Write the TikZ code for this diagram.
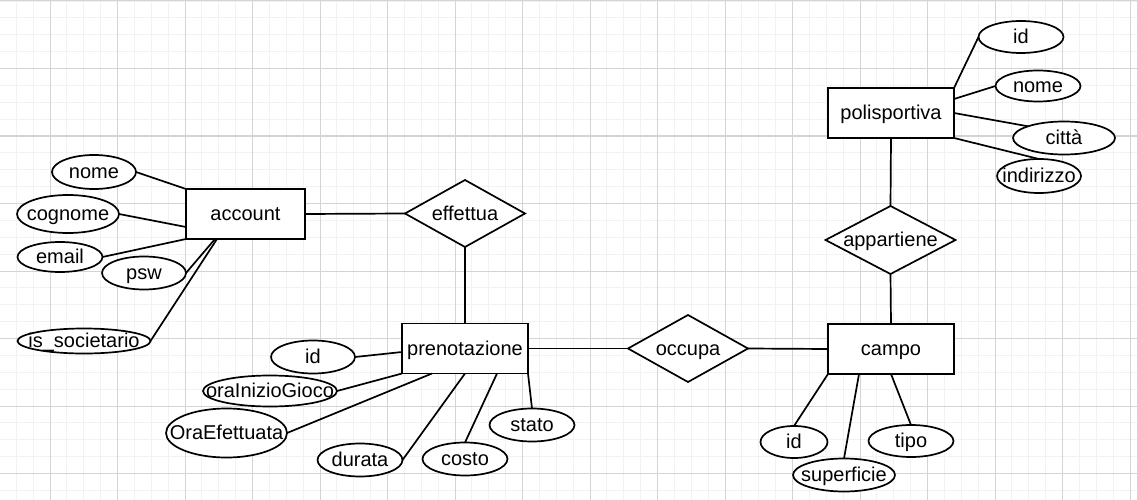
\documentclass[tikz,border=0pt]{standalone}
\usepackage{fontspec}
\setmainfont{Liberation Sans}
\usetikzlibrary{shapes.geometric}
% centred label whose size does not affect the shape around it
\newcommand{\ertext}[1]{\makebox[0pt]{\raisebox{-6.9pt}[0pt][0pt]{#1}}}

\begin{document}
\begin{tikzpicture}[x=1pt,y=-1pt,
  every node/.style={font=\fontsize{20}{24}\selectfont, inner sep=0pt, outer sep=0pt},
  entity/.style 2 args={draw, line width=1.7pt, fill=white, rectangle,
    minimum width=#1, minimum height=#2},
  relation/.style 2 args={draw, line width=1.7pt, fill=white, diamond,
    minimum width=#1, minimum height=#2},
  attr/.style 2 args={draw, line width=1.7pt, fill=white, ellipse,
    minimum width=#1, minimum height=#2},
  link/.style={line width=1.7pt},
  minorgrid/.style={draw=black!5, line width=0.8pt},
  majorgrid/.style={draw=black!17, line width=1pt}]

\useasboundingbox (0,0) rectangle (1137,500);
\fill[white] (0,0) rectangle (1137,500);

% background grid
\foreach \i in {-3,...,64} \draw[minorgrid] ({50+16.875*\i},0) -- ({50+16.875*\i},500);
\foreach \j in {0,...,29} \draw[minorgrid] (0,{1+16.875*\j}) -- (1137,{1+16.875*\j});
\foreach \i in {-1,...,16} \draw[majorgrid] ({50+67.5*\i},0) -- ({50+67.5*\i},500);
\foreach \j in {0,...,7} \draw[majorgrid] (0,{1+67.5*\j}) -- (1137,{1+67.5*\j});

% entities
\node[entity={119pt}{50pt}] (account) at (245.5,214) {\ertext{account}};
\node[entity={126pt}{50pt}] (pren) at (465,348.5) {\ertext{prenotazione}};
\node[entity={126pt}{50pt}] (campo) at (891,349) {\ertext{campo}};
\node[entity={126pt}{50pt}] (poli) at (891,113) {\ertext{polisportiva}};

% relationships
\node[relation={120pt}{67pt}] (effettua) at (465,213.5) {\ertext{effettua}};
\node[relation={120pt}{67pt}] (occupa) at (688,348.5) {\ertext{occupa}};
\node[relation={130pt}{68pt}] (appartiene) at (890.5,240) {\ertext{appartiene}};

% attributes of account
\node[attr={84pt}{34pt}] (a_nome) at (94,172) {\ertext{nome}};
\node[attr={102pt}{38pt}] (a_cognome) at (68,214) {\ertext{cognome}};
\node[attr={85pt}{30pt}] (a_email) at (60,257) {\ertext{email}};
\node[attr={84pt}{33pt}] (a_psw) at (144,273) {\ertext{psw}};
\node[attr={133pt}{25pt}] (a_soc) at (84,341) {\ertext{is\_societario}};

% attributes of prenotazione
\node[attr={84pt}{33pt}] (p_id) at (313,357) {\ertext{id}};
\node[attr={134pt}{31pt}] (p_ini) at (270,391) {\ertext{oraInizioGioco}};
\node[attr={121pt}{49pt}] (p_eff) at (226.5,433) {\ertext{OraEfettuata}};
\node[attr={85pt}{33pt}] (p_dur) at (360,460) {\ertext{durata}};
\node[attr={85pt}{33pt}] (p_cos) at (465,459) {\ertext{costo}};
\node[attr={85pt}{33pt}] (p_sta) at (532,425) {\ertext{stato}};

% attributes of campo
\node[attr={67pt}{32pt}] (c_id) at (794,442) {\ertext{id}};
\node[attr={102pt}{33pt}] (c_sup) at (844,475) {\ertext{superficie}};
\node[attr={85pt}{32pt}] (c_tipo) at (911,441) {\ertext{tipo}};

% attributes of polisportiva
\node[attr={85pt}{32pt}] (s_id) at (1021,37) {\ertext{id}};
\node[attr={85pt}{31pt}] (s_nome) at (1038,86) {\ertext{nome}};
\node[attr={102pt}{33pt}] (s_citta) at (1064,138) {\ertext{città}};
\node[attr={84pt}{34pt}] (s_ind) at (1039,176) {\ertext{indirizzo}};

% relationship links
\draw[link] (account.east) -- (effettua.west);
\draw[link] (effettua.south) -- (pren.north);
\draw[link] (pren.east) -- (occupa.west);
\draw[link] (occupa.east) -- (campo.west);
\draw[link] (poli.south) -- (appartiene.north);
\draw[link] (appartiene.south) -- (campo.north);

% attribute links
\draw[link] (a_nome.east) -- (account.north west);
\draw[link] (a_cognome.east) -- ([yshift=-13pt]account.west);
\draw[link] (a_email.east) -- (account.south west);
\draw[link] (a_psw.east) -- ([xshift=29pt]account.south west);
\draw[link] (a_soc.east) -- ([xshift=31pt]account.south west);

\draw[link] (p_id.east) -- ([yshift=-3.5pt]pren.west);
\draw[link] (p_ini.east) -- (pren.south west);
\draw[link] (p_eff.east) -- ([xshift=30pt]pren.south west);
\draw[link] (p_dur.east) -- (pren.south);
\draw[link] (p_cos.north) -- ([xshift=32pt]pren.south);
\draw[link] (p_sta.north) -- (pren.south east);

\draw[link] (c_id.north) -- (campo.south west);
\draw[link] (c_sup.north) -- ([xshift=31pt]campo.south west);
\draw[link] (c_tipo.north) -- (campo.south);

\draw[link] (poli.north east) -- (s_id.west);
\draw[link] ([yshift=-11pt]poli.north east) -- (s_nome.west);
\draw[link] (poli.east) -- (s_citta.162);
\draw[link] (poli.south east) -- (s_ind.north);
\end{tikzpicture}
\end{document}
